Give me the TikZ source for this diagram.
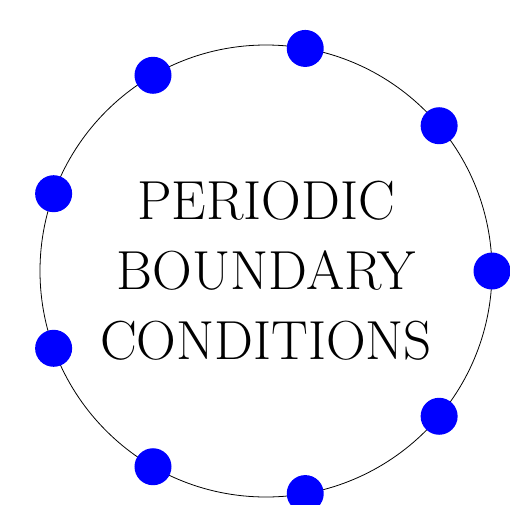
\documentclass[tikz,border=0pt]{standalone}
\usepackage{fontspec}
\usepackage{tikz}

\begin{document}
\begin{tikzpicture}[
  x=1pt, y=1pt,
  ring/.style={circle, draw, line width=0.8pt, minimum size=452pt, inner sep=0pt},
  site/.style={circle, fill=blue, inner sep=0pt, minimum size=37pt},
  caption/.style={align=center, font=\fontsize{55}{70}\selectfont},
]
  \useasboundingbox (-266,-233) rectangle (244,271);
  \node[ring] (box) at (0,0) {};
  \foreach \k in {0,...,8}
    \node[site] (site\k) at ({\k*40}:226) {};
  \node[caption] (title) at (box.center) {PERIODIC\\BOUNDARY\\CONDITIONS};
\end{tikzpicture}
\end{document}
